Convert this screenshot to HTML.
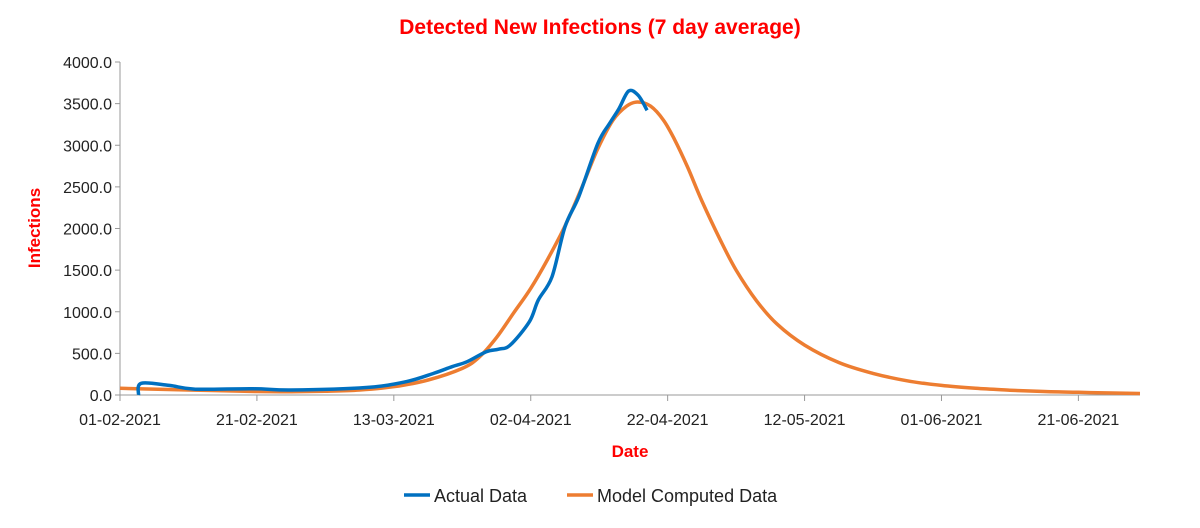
<!DOCTYPE html>
<html><head><meta charset="utf-8"><style>
body{margin:0;background:#fff;font-family:"Liberation Sans",sans-serif}
svg text{font-family:"Liberation Sans",sans-serif}
</style></head><body>
<svg width="1200" height="523" viewBox="0 0 1200 523">
<text x="600" y="34" text-anchor="middle" font-size="21" font-weight="bold" fill="#ff0000">Detected New Infections (7 day average)</text>
<text x="40" y="228" transform="rotate(-90 40 228)" text-anchor="middle" font-size="17" font-weight="bold" fill="#ff0000">Infections</text>
<text x="630" y="457" text-anchor="middle" font-size="17" font-weight="bold" fill="#ff0000">Date</text>
<g>
<line x1="404" y1="495" x2="430" y2="495" stroke="#0070c0" stroke-width="3.5"/>
<text x="434" y="502" font-size="18" fill="#222">Actual Data</text>
<line x1="567" y1="495" x2="593" y2="495" stroke="#ed7d31" stroke-width="3.5"/>
<text x="597" y="502" font-size="18" fill="#222">Model Computed Data</text>
</g>
</svg>
<script>
const yTicks=[0,500,1000,1500,2000,2500,3000,3500,4000];
const xTickDays=[0,20,40,60,80,100,120,140];
const xTickLabels=["01-02-2021","21-02-2021","13-03-2021","02-04-2021","22-04-2021","12-05-2021","01-06-2021","21-06-2021"];
const actualDays=[2.7,3.1,7.2,11,19.5,25,36,41.8,45.8,48.5,50.7,53.5,55.3,57,59.8,61.1,63.1,65,67,69.8,71.5,72.9,74.3,75.7,77];
const actualVals=[0,140,115,70,75,60,90,160,260,340,400,520,550,600,880,1140,1420,2020,2380,3020,3260,3440,3650,3600,3420];
const modelDays=[0,10,20,25,30,35,40,45,50,52.5,55,57.5,60,62.4,65,67.3,69.7,72,74,75.6,77.5,79.4,81,82.9,85,87.7,90,93,96,100,105,110,115,120,125,130,135,140,145,149];
const modelVals=[80,60,42,40,45,60,100,180,320,456,690,985,1280,1620,2030,2460,2940,3300,3470,3520,3470,3300,3070,2740,2330,1860,1500,1130,850,600,390,260,170,115,80,58,42,32,24,18];
const svg=document.querySelector('svg');const NS='http://www.w3.org/2000/svg';
const X0=120,X1=1140,Y0=395,Y1=62,DMAX=149;
const xs=d=>X0+d*(X1-X0)/DMAX, ys=v=>Y0-(v/4000)*(Y0-Y1);
function mk(t,a){const e=document.createElementNS(NS,t);for(const k in a)e.setAttribute(k,a[k]);svg.appendChild(e);return e;}
yTicks.forEach(v=>{
 const l=mk('line',{x1:X0-5,x2:X0,y1:ys(v),y2:ys(v),stroke:'#999'});
 
 
 const t=mk('text',{x:X0-8,y:ys(v)+6,'text-anchor':'end','font-size':16,fill:'#222'});t.textContent=v.toFixed(1);
 
 
});
const ya=mk('line',{x1:X0,x2:X0,y1:Y1,y2:Y0,stroke:'#999'});


const xa=mk('line',{x1:X0,x2:X1,y1:Y0,y2:Y0,stroke:'#999'});


xTickDays.forEach((d,i)=>{
 const l=mk('line',{x1:xs(d),x2:xs(d),y1:Y0,y2:Y0+6,stroke:'#999'});
 
 
 const t=mk('text',{x:xs(d),y:Y0+30,'text-anchor':'middle','font-size':16,fill:'#222'});t.textContent=xTickLabels[i];
 
 
});
function path(ds,vs){
 const p=ds.map((d,i)=>[xs(d),ys(vs[i])]);
 let s='M'+p[0][0].toFixed(1)+','+p[0][1].toFixed(1);
 for(let i=0;i<p.length-1;i++){
  const a=p[i-1]||p[i],b=p[i],c=p[i+1],e=p[i+2]||c,k=1/6;
  s+='C'+(b[0]+(c[0]-a[0])*k).toFixed(1)+','+(b[1]+(c[1]-a[1])*k).toFixed(1)+' '+(c[0]-(e[0]-b[0])*k).toFixed(1)+','+(c[1]-(e[1]-b[1])*k).toFixed(1)+' '+c[0].toFixed(1)+','+c[1].toFixed(1);
 }
 return s;
}
const m=mk('path',{d:path(modelDays,modelVals),fill:'none',stroke:'#ed7d31','stroke-width':3.5,'stroke-linejoin':'round'});


const a=mk('path',{d:path(actualDays,actualVals),fill:'none',stroke:'#0070c0','stroke-width':3.5,'stroke-linejoin':'round'});


svg.insertBefore(m,a);
</script>
</body></html>
